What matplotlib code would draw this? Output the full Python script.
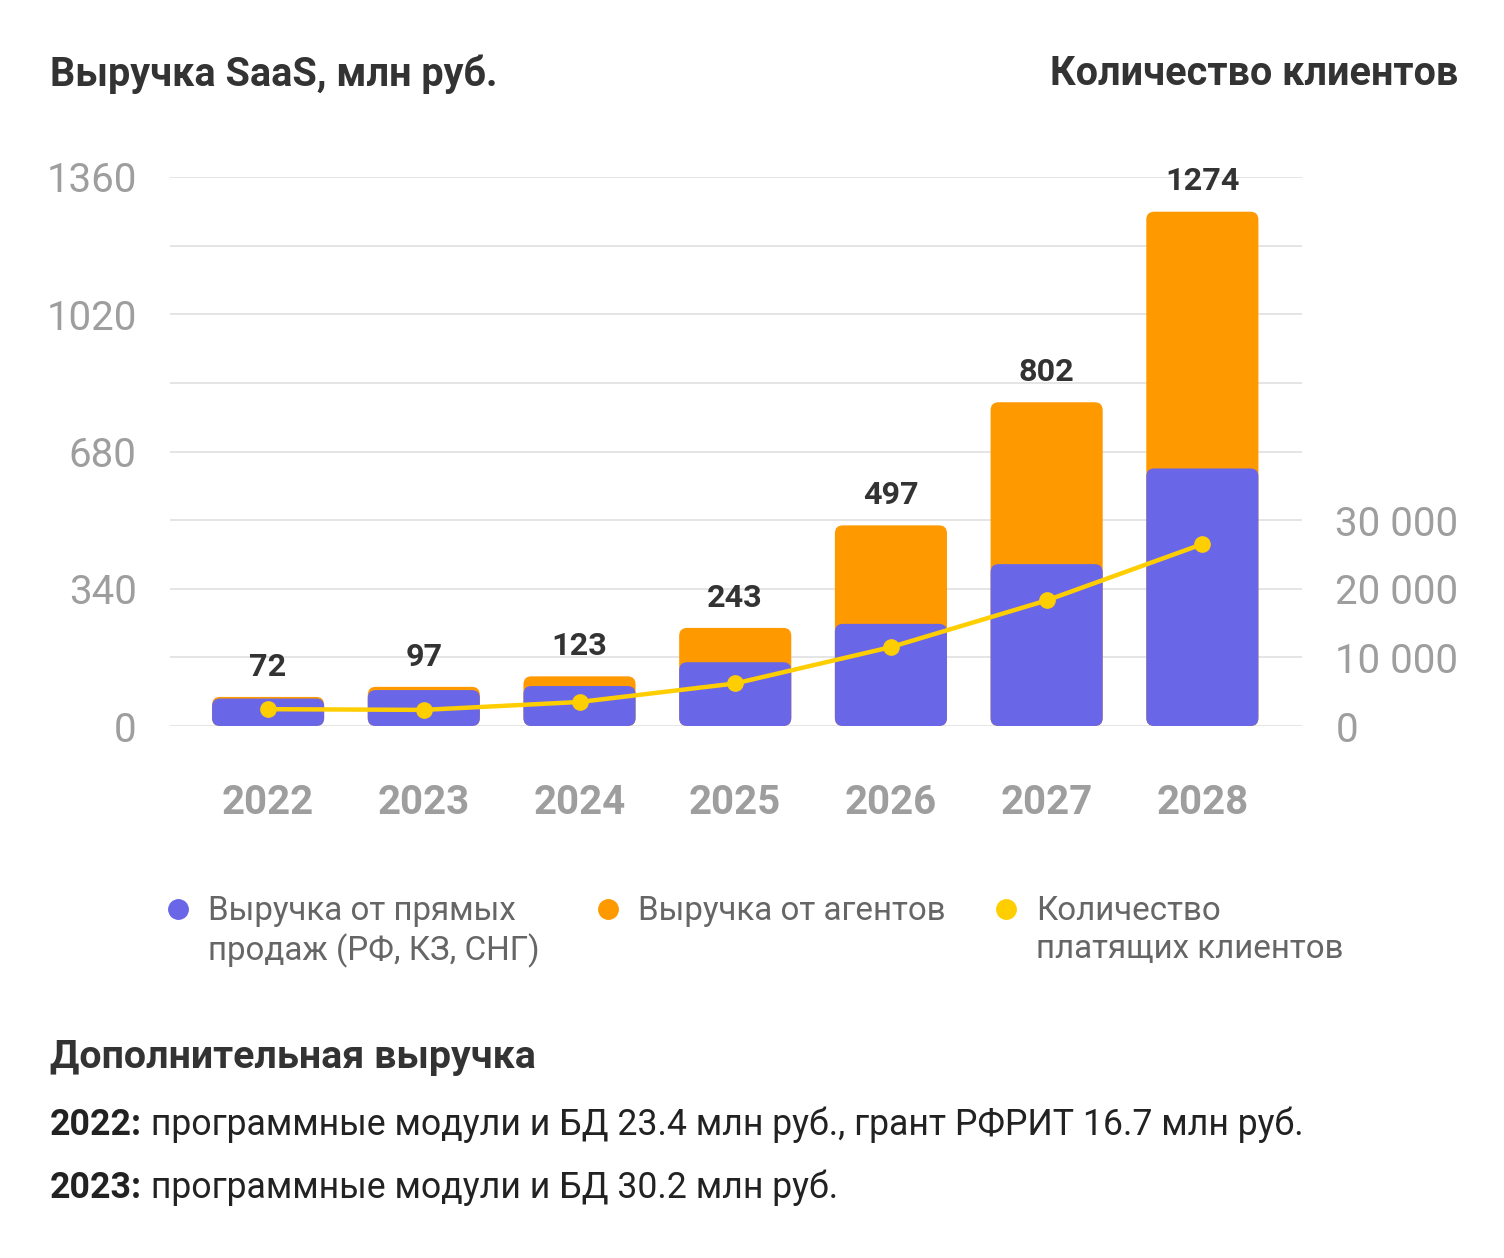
import matplotlib
matplotlib.use('Agg')
import matplotlib.pyplot as plt
from matplotlib.patches import FancyBboxPatch
from matplotlib.lines import Line2D
from matplotlib.ticker import FuncFormatter
import numpy as np

plt.rcParams['font.family'] = ['Roboto', 'DejaVu Sans']

years = ['2022', '2023', '2024', '2025', '2026', '2027', '2028']
direct = [68, 89, 99, 158, 253, 401, 638]
agents = [4, 8, 24, 85, 244, 401, 636]
totals = [72, 97, 123, 243, 497, 802, 1274]
clients = [2450, 2350, 3500, 6200, 11500, 18300, 26500]
left_ticks = [0, 340, 680, 1020, 1360]
right_ticks = [0, 10000, 20000, 30000]

legend_labels = ['Выручка от прямых\nпродаж (РФ, КЗ, СНГ)', 'Выручка от агентов',
                 'Количество\nплатящих клиентов']
extra_title = 'Дополнительная выручка'
extra_years = ['2022:', '2023:']
extra_texts = [' программные модули и БД 23.4 млн руб., грант РФРИТ 16.7 млн руб.',
               ' программные модули и БД 30.2 млн руб.']

C_DIRECT = '#6967E8'
C_AGENT = '#FF9900'
C_LINE = '#FFCE00'
GRAY = '#9E9E9E'
DARK = '#333333'

W, H = 1504, 1258
fig = plt.figure(figsize=(W / 100, H / 100), dpi=100)
ax = fig.add_axes([170 / W, 1 - 726 / H, (1302 - 170) / W, (726 - 177) / H])
x = np.arange(len(years))
ax.set_xlim(-0.63, 6.64)
ax.set_ylim(0, 1360)

# grid
for g in np.arange(0, 1361, 170):
    ax.axhline(g, color='#E3E3E3', lw=1.3, zorder=0)
for s in ax.spines.values():
    s.set_visible(False)

bars_o = ax.bar(x, np.array(direct) + np.array(agents), width=0.72, color=C_AGENT, zorder=2)
bars_p = ax.bar(x, direct, width=0.72, color=C_DIRECT, zorder=3)

bb = ax.get_window_extent()
pxx = bb.width / (6.64 + 0.63)
pxy = bb.height / 1360
aspect = pxx / pxy
r = 8 / pxx
for bars, col, z in [(bars_o, C_AGENT, 2), (bars_p, C_DIRECT, 3)]:
    for rect in bars:
        rect.set_visible(False)
        p = FancyBboxPatch((rect.get_x(), rect.get_y()), rect.get_width(), rect.get_height(),
                           boxstyle=f"round,pad=0,rounding_size={r}", mutation_aspect=aspect,
                           fc=col, ec='none', zorder=z)
        ax.add_patch(p)

for xi, t in zip(x, totals):
    ax.annotate(str(t), (xi, t), xytext=(0, 11), textcoords='offset points',
                ha='center', va='bottom', fontsize=23.3, fontweight='bold', color=DARK,
                annotation_clip=False)

ax.set_yticks(left_ticks)
ax.tick_params(axis='y', length=0, pad=24, labelsize=29, labelcolor=GRAY)
ax.set_xticks(x)
ax.set_xticklabels(years, fontsize=29, fontweight='bold', color=GRAY)
ax.tick_params(axis='x', length=0, pad=42)

ax2 = ax.twinx()
ax2.set_ylim(0, 80000)
for s in ax2.spines.values():
    s.set_visible(False)
ax2.plot(x, clients, color=C_LINE, lw=3.2, marker='o', markersize=11, zorder=5)
ax2.set_yticks(right_ticks)
ax2.yaxis.set_major_formatter(FuncFormatter(lambda v, p: f'{int(v):,}'.replace(',', ' ')))
ax2.tick_params(axis='y', length=0, pad=24, labelsize=29, labelcolor=GRAY)

# titles
fig.text(50 / W, 1 - 74 / H, 'Выручка SaaS, млн руб.', fontsize=28.5, fontweight='bold',
         color=DARK, ha='left', va='center')
fig.text(1458 / W, 1 - 74 / H, 'Количество клиентов', fontsize=28.5, fontweight='bold',
         color=DARK, ha='right', va='center')

# legend
leg_x = [178, 608, 1006]
leg_colors = [C_DIRECT, C_AGENT, C_LINE]
for lx, lc, lab in zip(leg_x, leg_colors, legend_labels):
    fig.add_artist(Line2D([lx / W], [1 - 909 / H], marker='o', markersize=14, color=lc,
                          linestyle='none', transform=fig.transFigure))
    fig.text((lx + 30) / W, 1 - 895 / H, lab, fontsize=23.9, color='#666666',
             ha='left', va='top', linespacing=1.25)

# additional revenue
fig.text(50 / W, 1 - 1057 / H, extra_title, fontsize=28.4, fontweight='bold', color=DARK,
         ha='left', va='center')
for yy, yr, tx in zip([1125, 1188], extra_years, extra_texts):
    t1 = fig.text(50 / W, 1 - yy / H, yr, fontsize=25.7, fontweight='bold', color='#222222',
                  ha='left', va='center')
    plt.annotate(tx, xy=(1, 0), xycoords=t1, va='bottom', ha='left', fontsize=25.7,
                 color='#222222')

fig.savefig('out.png', dpi=100)
